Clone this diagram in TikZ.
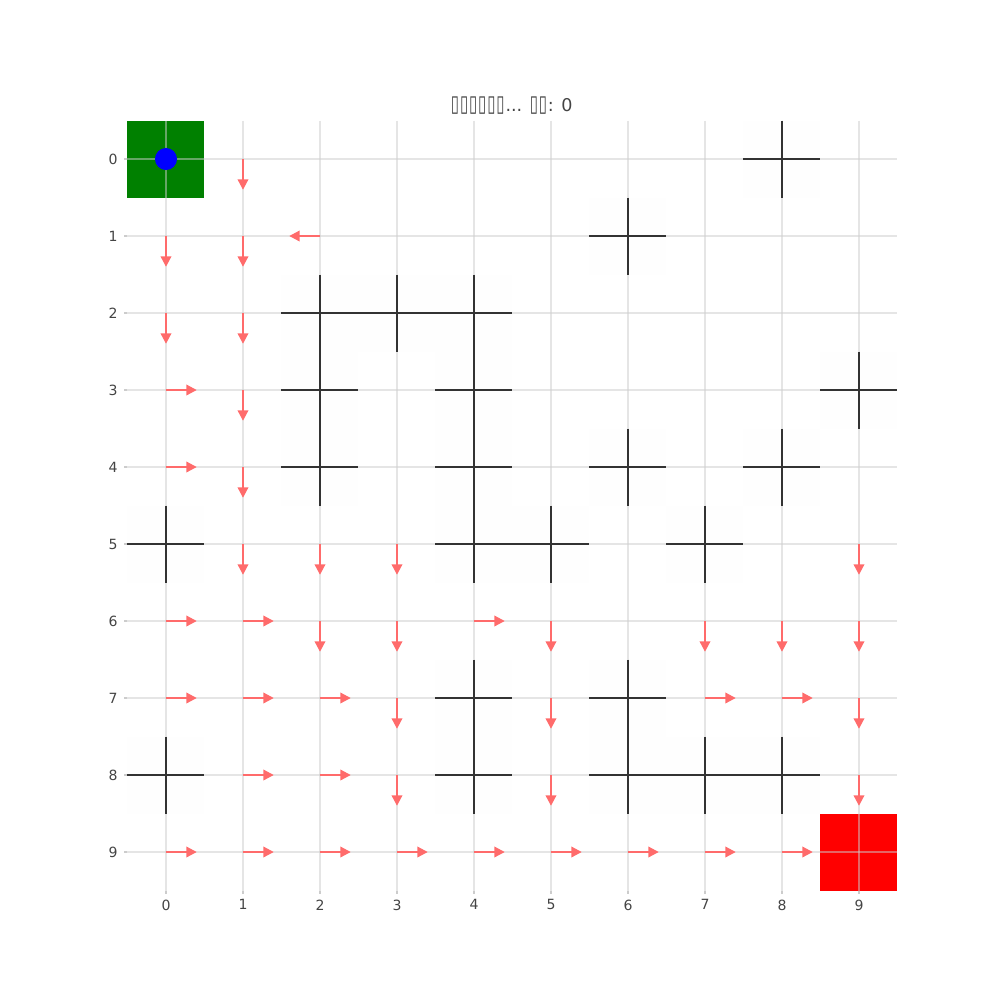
\documentclass[tikz,border=0pt]{standalone}
\usepackage{fontspec}
\setmainfont{DejaVu Sans}
\usetikzlibrary{arrows.meta}
\definecolor{gridc}{HTML}{CCCCCC}
\definecolor{arrc}{HTML}{FF6B6B}
\definecolor{wallc}{HTML}{333333}
\definecolor{labc}{HTML}{444444}
\definecolor{startc}{HTML}{008000}
\definecolor{goalc}{HTML}{FF0000}
\definecolor{agentc}{HTML}{0000FF}
\definecolor{wallbg}{HTML}{FEFEFE}
\newcommand{\tofubox}{\scalebox{0.85}[1.3]{▯}\hspace{0.25pt}}
\begin{document}
\begin{tikzpicture}[x=0.77cm,y=-0.77cm,
  gridline/.style={gridc, line width=0.3pt, opacity=0.5},
  tickline/.style={gridc, line width=0.3pt},
  wall/.style={wallc, line width=0.4pt},
  pol/.style={arrc, line width=0.6pt, -{Triangle[length=3pt,width=3pt]}},
  lab/.style={labc, font=\fontsize{4pt}{5pt}\selectfont, inner sep=0pt}]
\useasboundingbox (-2.1558,-2.0649) rectangle (10.8312,10.9221);
% obstacle cell backgrounds
\foreach \c/\r in {8/0,6/1,2/2,3/2,4/2,2/3,4/3,9/3,2/4,4/4,6/4,8/4,0/5,4/5,5/5,7/5,4/7,6/7,0/8,4/8,6/8,7/8,8/8}
  \fill[wallbg] (\c-0.5,\r-0.5) rectangle (\c+0.5,\r+0.5);
% start and goal
\fill[startc] (-0.5,-0.5) rectangle (0.5,0.5);
\fill[goalc] (8.5,8.5) rectangle (9.5,9.5);
% grid
\foreach \i in {0,...,9} {
  \draw[gridline] (\i,-0.5) -- (\i,9.5);
  \draw[gridline] (-0.5,\i) -- (9.5,\i);
  \draw[tickline] (-0.5,\i) -- ++(-0.05,0);
  \draw[tickline] (\i,9.5) -- ++(0,0.05);
  \node[lab, anchor=east] (ylab\i) at (-0.62,\i) {\i};
  \node[lab, anchor=north] (xlab\i) at (\i,9.61) {\i};
}
% obstacles
\foreach \c/\r in {8/0,6/1,2/2,3/2,4/2,2/3,4/3,9/3,2/4,4/4,6/4,8/4,0/5,4/5,5/5,7/5,4/7,6/7,0/8,4/8,6/8,7/8,8/8}
  \draw[wall] (\c-0.5,\r) -- (\c+0.5,\r) (\c,\r-0.5) -- (\c,\r+0.5);
% policy arrows
\foreach \c/\r/\dx/\dy in {
  1/0/0/0.4,
  0/1/0/0.4, 1/1/0/0.4, 2/1/-0.4/0,
  0/2/0/0.4, 1/2/0/0.4,
  0/3/0.4/0, 1/3/0/0.4,
  0/4/0.4/0, 1/4/0/0.4,
  1/5/0/0.4, 2/5/0/0.4, 3/5/0/0.4, 9/5/0/0.4,
  0/6/0.4/0, 1/6/0.4/0, 2/6/0/0.4, 3/6/0/0.4, 4/6/0.4/0, 5/6/0/0.4, 7/6/0/0.4, 8/6/0/0.4, 9/6/0/0.4,
  0/7/0.4/0, 1/7/0.4/0, 2/7/0.4/0, 3/7/0/0.4, 5/7/0/0.4, 7/7/0.4/0, 8/7/0.4/0, 9/7/0/0.4,
  1/8/0.4/0, 2/8/0.4/0, 3/8/0/0.4, 5/8/0/0.4, 9/8/0/0.4,
  0/9/0.4/0, 1/9/0.4/0, 2/9/0.4/0, 3/9/0.4/0, 4/9/0.4/0, 5/9/0.4/0, 6/9/0.4/0, 7/9/0.4/0, 8/9/0.4/0}
  \draw[pol] (\c,\r) -- ++(\dx,\dy);
% agent
\fill[agentc] (0,0) circle[radius=0.143];
% title
\node[labc, font=\fontsize{5pt}{6pt}\selectfont, inner sep=0pt] (title) at (4.49,-0.69)
  {\tofubox\tofubox\tofubox\tofubox\tofubox\tofubox... \tofubox\tofubox: 0};
\end{tikzpicture}
\end{document}
